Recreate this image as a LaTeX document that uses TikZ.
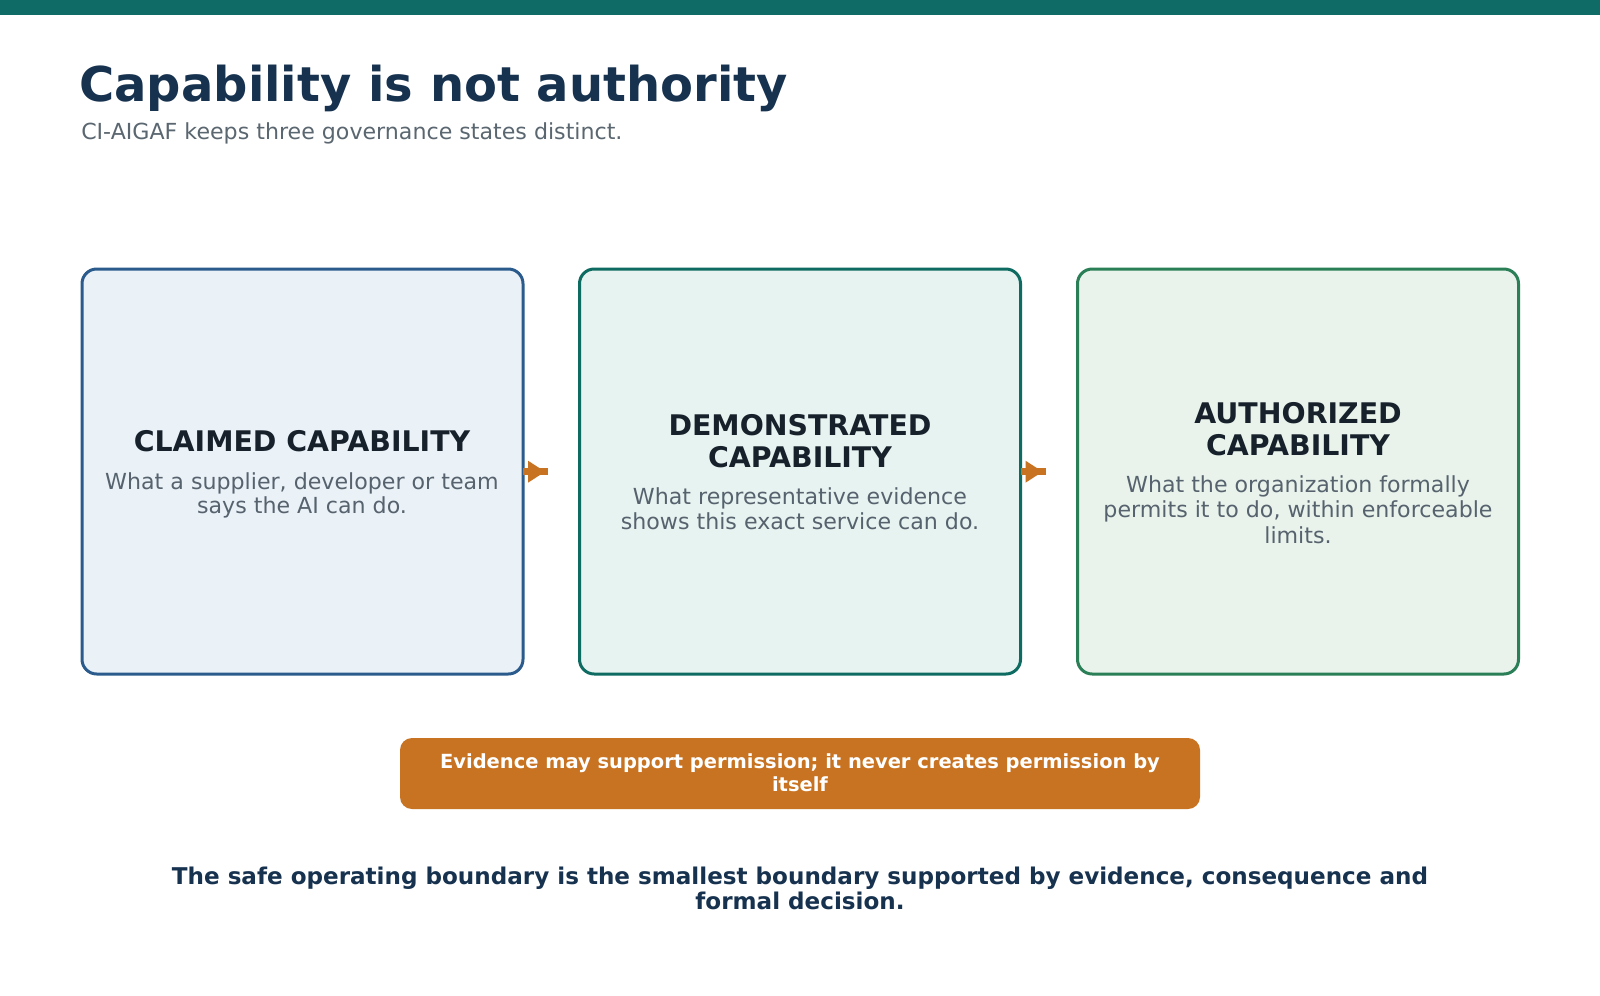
\documentclass[tikz,border=0pt]{standalone}
\usepackage{fontspec}
\setmainfont{DejaVu Sans}
\usetikzlibrary{calc}
\definecolor{barc}{HTML}{0F6B66}
\definecolor{navy}{HTML}{17324F}
\definecolor{subc}{HTML}{5B6770}
\definecolor{bonec}{HTML}{2B5B8C}
\definecolor{bonef}{HTML}{EAF1F7}
\definecolor{btwoc}{HTML}{0E6B62}
\definecolor{btwof}{HTML}{E7F3F0}
\definecolor{bthreec}{HTML}{2A7F56}
\definecolor{bthreef}{HTML}{E9F3EC}
\definecolor{titc}{HTML}{17212B}
\definecolor{descc}{HTML}{56626D}
\definecolor{accent}{HTML}{C87322}
\tikzset{
  capbox/.style={rectangle, rounded corners=11pt, line width=2.25pt, outer sep=0pt,
    minimum width=441*0.75pt, minimum height=405*0.75pt, inner sep=0pt},
  boxtitle/.style={anchor=base, inner sep=0pt, text=titc, font=\fontsize{21.3}{24}\selectfont\bfseries},
  boxdesc/.style={anchor=base, inner sep=0pt, text=descc, font=\fontsize{16.6}{18.75}\selectfont},
  flowline/.style={draw=accent, line width=5pt},
  flowhead/.style={fill=accent},
  notetext/.style={anchor=base, inner sep=0pt, text=white, font=\fontsize{14.6}{17}\selectfont\bfseries},
  foottext/.style={anchor=base, inner sep=0pt, text=navy, font=\fontsize{17.3}{19}\selectfont\bfseries},
}
\begin{document}
\begin{tikzpicture}[x=0.75pt,y=-0.75pt]
\fill[white] (0,0) rectangle (1600,996);
\useasboundingbox (0,0) rectangle (1600,996);
\fill[barc] (0,0) rectangle (1600,15);

\node[anchor=base west, inner sep=0pt, text=navy, font=\fontsize{36}{43}\selectfont\bfseries] (title) at (79,101) {Capability is not authority};
\node[anchor=base west, inner sep=0pt, text=subc, font=\fontsize{16.6}{19}\selectfont] (subtitle) at (81,139) {CI-AIGAF keeps three governance states distinct.};

% boxes
\node[capbox, draw=bonec, fill=bonef] (b1) at (302.5,471.5) {};
\node[capbox, draw=btwoc, fill=btwof] (b2) at (800,471.5) {};
\node[capbox, draw=bthreec, fill=bthreef] (b3) at (1298,471.5) {};

% box 1 text
\node[boxtitle] (b1t) at (302,451.7) {CLAIMED CAPABILITY};
\node[boxdesc] (b1d1) at (302,489.3) {What a supplier, developer or team};
\node[boxdesc] (b1d2) at (302,513.5) {says the AI can do.};

% box 2 text
\node[boxtitle] (b2t1) at (800,435.7) {DEMONSTRATED};
\node[boxtitle] (b2t2) at (800,467.7) {CAPABILITY};
\node[boxdesc] (b2d1) at (800,504) {What representative evidence};
\node[boxdesc] (b2d2) at (800,529) {shows this exact service can do.};

% box 3 text
\node[boxtitle] (b3t1) at (1298,423.3) {AUTHORIZED};
\node[boxtitle] (b3t2) at (1298,455) {CAPABILITY};
\node[boxdesc] (b3d1) at (1298,492) {What the organization formally};
\node[boxdesc] (b3d2) at (1298,517.5) {permits it to do, within enforceable};
\node[boxdesc] (b3d3) at (1298,543) {limits.};

% arrows
\coordinate (a1e) at (548,471.7);
\coordinate (a2e) at (1046,471.7);
\draw[flowline] (b1.east |- a1e) -- (a1e);
\fill[flowhead] ($(b1.east |- a1e)+(5,-11)$) -- ($(b1.east |- a1e)+(22,0)$) -- ($(b1.east |- a1e)+(5,11)$) -- cycle;
\draw[flowline] (b2.east |- a2e) -- (a2e);
\fill[flowhead] ($(b2.east |- a2e)+(5,-11)$) -- ($(b2.east |- a2e)+(22,0)$) -- ($(b2.east |- a2e)+(5,11)$) -- cycle;

% note
\node[rectangle, rounded corners=9pt, fill=accent, minimum width=800*0.75pt, minimum height=71*0.75pt, inner sep=0pt] (note) at (800,773.5) {};
\node[notetext] (n1) at (800,768) {Evidence may support permission; it never creates permission by};
\node[notetext] (n2) at (800,791) {itself};

% footer
\node[foottext] (f1) at (800,884) {The safe operating boundary is the smallest boundary supported by evidence, consequence and};
\node[foottext] (f2) at (800,909) {formal decision.};
\end{tikzpicture}
\end{document}
